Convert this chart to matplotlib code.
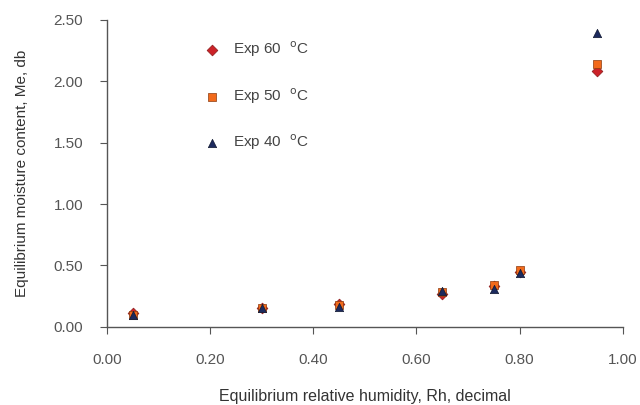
import matplotlib
matplotlib.use('Agg')
import matplotlib.pyplot as plt
import numpy as np

plt.rcParams['font.family'] = ['Liberation Sans', 'DejaVu Sans']

# relative humidity (decimal)
rh = [0.05, 0.30, 0.45, 0.65, 0.75, 0.80, 0.95]
# equilibrium moisture content, db
me_60 = [0.11, 0.15, 0.19, 0.27, 0.33, 0.45, 2.08]
me_50 = [0.10, 0.15, 0.18, 0.28, 0.34, 0.46, 2.14]
me_40 = [0.10, 0.15, 0.16, 0.29, 0.31, 0.44, 2.39]

xticks = [0.0, 0.2, 0.4, 0.6, 0.8, 1.0]
yticks = [0.0, 0.5, 1.0, 1.5, 2.0, 2.5]

gray = '#555555'

fig = plt.figure(figsize=(6.4, 4.05), dpi=100)
ax = fig.add_axes([0.167, 0.193, 0.806, 0.758])

ax.scatter(rh, me_60, marker='D', s=30, color='#cc2228', edgecolors='#8a1a1a', linewidths=0.5,
           label='Exp 60  $^{\\mathrm{o}}$C', zorder=3)
ax.scatter(rh, me_50, marker='s', s=30, color='#f26a1b', edgecolors='#8a3a10', linewidths=0.5,
           label='Exp 50  $^{\\mathrm{o}}$C', zorder=3)
ax.scatter(rh, me_40, marker='^', s=36, color='#1c2a5e', edgecolors='#101830', linewidths=0.5,
           label='Exp 40  $^{\\mathrm{o}}$C', zorder=4)

ax.set_xlim(0, 1.0)
ax.set_ylim(0, 2.5)
ax.set_xticks(xticks)
ax.set_yticks(yticks)
ax.set_xticklabels(['%.2f' % v for v in xticks])
ax.set_yticklabels(['%.2f' % v for v in yticks])

for s in ['top', 'right']:
    ax.spines[s].set_visible(False)
for s in ['left', 'bottom']:
    ax.spines[s].set_color(gray)
    ax.spines[s].set_linewidth(1.0)

ax.tick_params(axis='x', direction='out', length=5, color=gray, labelcolor=gray, labelsize=11, pad=14)
ax.tick_params(axis='y', direction='out', length=5, color=gray, labelcolor=gray, labelsize=11, pad=12)

ax.set_xlabel('Equilibrium relative humidity, Rh, decimal', fontsize=11.5, color='#333333', labelpad=16)
ax.set_ylabel('Equilibrium moisture content, Me, db', fontsize=11, color='#333333', labelpad=18)

leg = ax.legend(loc='upper left', bbox_to_anchor=(0.147, 0.98), frameon=False, fontsize=11,
                labelspacing=1.75, handletextpad=0.4, scatterpoints=1)
for t in leg.get_texts():
    t.set_color('#444444')

fig.savefig('out.png', dpi=100)
